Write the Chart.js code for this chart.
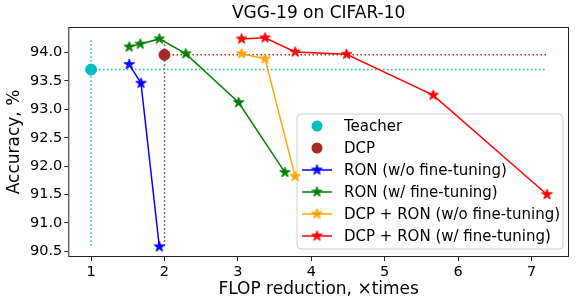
<!DOCTYPE html>
<html>
<head>
<meta charset="utf-8">
<script src="https://cdn.jsdelivr.net/npm/chart.js@4/dist/chart.umd.min.js"></script>
<style>
  html, body { margin: 0; padding: 0; background: #fff; }
</style>
</head>
<body>
<canvas id="chart" width="581" height="307"></canvas>
<script>
// ---- data ----
const xTicks = [1, 2, 3, 4, 5, 6, 7];
const yTicks = [90.5, 91.0, 91.5, 92.0, 92.5, 93.0, 93.5, 94.0];

const teacherX = [1];
const teacherY = [93.7];
const dcpX = [2];
const dcpY = [93.96];

const ronNoFtX = [1.52, 1.68, 1.93];
const ronNoFtY = [93.79, 93.46, 90.58];

const ronFtX = [1.52, 1.67, 1.93, 2.29, 3.01, 3.64];
const ronFtY = [94.10, 94.15, 94.24, 93.98, 93.12, 91.89];

const dcpRonNoFtX = [3.05, 3.37, 3.78];
const dcpRonNoFtY = [93.98, 93.89, 91.82];

const dcpRonFtX = [3.05, 3.37, 3.78, 4.48, 5.66, 7.21];
const dcpRonFtY = [94.24, 94.26, 94.01, 93.97, 93.25, 91.50];

// dotted guide lines (ends of the lines)
const guideBottom = 90.6, guideTop = 94.23, guideRight = 7.2;

const FONT = "'DejaVu Sans', sans-serif";

function pts(xs, ys) { return xs.map((x, i) => ({ x: x, y: ys[i] })); }

function makeStar(color, r) {
  const size = Math.ceil(2 * r + 2);
  const c = document.createElement('canvas');
  c.width = size; c.height = size;
  const ctx = c.getContext('2d');
  const cx = size / 2, cy = size / 2, inner = r * 0.382;
  ctx.beginPath();
  for (let i = 0; i < 10; i++) {
    const rad = i % 2 === 0 ? r : inner;
    const a = -Math.PI / 2 + i * Math.PI / 5;
    const px = cx + rad * Math.cos(a), py = cy + rad * Math.sin(a);
    if (i === 0) ctx.moveTo(px, py); else ctx.lineTo(px, py);
  }
  ctx.closePath();
  ctx.fillStyle = color;
  ctx.fill();
  ctx.lineWidth = 1;
  ctx.strokeStyle = color;
  ctx.stroke();
  return c;
}

const cTeacher = '#00bfbf', cDcp = '#a52a2a';
const cBlue = '#0000ff', cGreen = '#008000', cOrange = '#ffa500', cRed = '#ff0000';
const STAR_R = 5.5;
const stars = {
  blue: makeStar(cBlue, STAR_R), green: makeStar(cGreen, STAR_R),
  orange: makeStar(cOrange, STAR_R), red: makeStar(cRed, STAR_R)
};

function guide(color, data) {
  return {
    data: data, borderColor: color, borderWidth: 1.5, borderDash: [1.5, 2.5],
    pointRadius: 0, showLine: true, fill: false, order: 10
  };
}
function series(color, star, data) {
  return {
    data: data, borderColor: color, backgroundColor: color, borderWidth: 1.5,
    pointStyle: star, pointRadius: STAR_R, showLine: true, fill: false, order: 2
  };
}

const legendItems = [
  { label: 'Teacher', color: cTeacher, line: false },
  { label: 'DCP', color: cDcp, line: false },
  { label: 'RON (w/o fine-tuning)', color: cBlue, line: true, star: stars.blue },
  { label: 'RON (w/ fine-tuning)', color: cGreen, line: true, star: stars.green },
  { label: 'DCP + RON (w/o fine-tuning)', color: cOrange, line: true, star: stars.orange },
  { label: 'DCP + RON (w/ fine-tuning)', color: cRed, line: true, star: stars.red }
];

const decor = {
  id: 'decor',
  beforeDatasetsDraw(chart) {
    // legend sits under the data lines, as in the original
    const ctx = chart.ctx;
    ctx.save();
    const bx = 297, by = 114, bw = 266, bh = 135, rr = 4;
    ctx.beginPath();
    ctx.moveTo(bx + rr, by);
    ctx.arcTo(bx + bw, by, bx + bw, by + bh, rr);
    ctx.arcTo(bx + bw, by + bh, bx, by + bh, rr);
    ctx.arcTo(bx, by + bh, bx, by, rr);
    ctx.arcTo(bx, by, bx + bw, by, rr);
    ctx.closePath();
    ctx.fillStyle = 'rgba(255,255,255,0.8)';
    ctx.fill();
    ctx.strokeStyle = '#d0d0d0';
    ctx.lineWidth = 1;
    ctx.stroke();
    ctx.font = '15px ' + FONT;
    ctx.textAlign = 'left';
    ctx.textBaseline = 'middle';
    legendItems.forEach((it, i) => {
      const y = 126 + i * 22;
      if (it.line) {
        ctx.strokeStyle = it.color;
        ctx.lineWidth = 1.5;
        ctx.beginPath();
        ctx.moveTo(302, y); ctx.lineTo(332, y);
        ctx.stroke();
        ctx.drawImage(it.star, 317 - it.star.width / 2, y - it.star.height / 2);
      } else {
        ctx.fillStyle = it.color;
        ctx.beginPath();
        ctx.arc(317, y, 5.5, 0, Math.PI * 2);
        ctx.fill();
      }
      ctx.fillStyle = '#000';
      ctx.fillText(it.label, 344, y + 1);
    });
    ctx.restore();
  },
  afterDraw(chart) {
    const ctx = chart.ctx, a = chart.chartArea;
    ctx.save();
    ctx.strokeStyle = '#222';
    ctx.lineWidth = 1;
    ctx.strokeRect(a.left + 0.5, a.top + 0.5, a.right - a.left - 1, a.bottom - a.top - 1);
    ctx.fillStyle = '#000';
    ctx.font = '17px ' + FONT;
    ctx.textAlign = 'center';
    ctx.textBaseline = 'middle';
    ctx.fillText('VGG-19 on CIFAR-10', (a.left + a.right) / 2, 14);
    ctx.restore();
  }
};

new Chart(document.getElementById('chart'), {
  type: 'scatter',
  data: {
    datasets: [
      guide(cTeacher, [{ x: teacherX[0], y: guideBottom }, { x: teacherX[0], y: guideTop }]),
      guide(cTeacher, [{ x: teacherX[0], y: teacherY[0] }, { x: guideRight, y: teacherY[0] }]),
      guide(cDcp, [{ x: dcpX[0], y: guideBottom }, { x: dcpX[0], y: guideTop }]),
      guide(cDcp, [{ x: dcpX[0], y: dcpY[0] }, { x: guideRight, y: dcpY[0] }]),
      series(cBlue, stars.blue, pts(ronNoFtX, ronNoFtY)),
      series(cGreen, stars.green, pts(ronFtX, ronFtY)),
      series(cOrange, stars.orange, pts(dcpRonNoFtX, dcpRonNoFtY)),
      series(cRed, stars.red, pts(dcpRonFtX, dcpRonFtY)),
      { data: pts(teacherX, teacherY), backgroundColor: cTeacher, borderColor: cTeacher,
        pointRadius: 5.5, order: 1 },
      { data: pts(dcpX, dcpY), backgroundColor: cDcp, borderColor: cDcp,
        pointRadius: 5.5, order: 1 }
    ]
  },
  options: {
    responsive: false,
    animation: false,
    events: [],
    layout: { padding: { top: 27, right: 12, bottom: 0, left: 0 } },
    plugins: { legend: { display: false }, title: { display: false }, tooltip: { enabled: false } },
    scales: {
      x: {
        type: 'linear', min: 0.69, max: 7.51,
        afterBuildTicks: s => { s.ticks = xTicks.map(v => ({ value: v })); },
        afterFit: s => { s.height = 50; },
        grid: { drawOnChartArea: false, drawTicks: true, tickLength: 4, color: '#222' },
        border: { display: false },
        ticks: { color: '#000', font: { family: FONT, size: 14.5 }, padding: 3, maxRotation: 0,
                 callback: v => String(v) },
        title: { display: true, text: 'FLOP reduction, \u00d7times', color: '#000',
                 font: { family: FONT, size: 17 }, padding: { top: 0, bottom: 7 } }
      },
      y: {
        type: 'linear', min: 90.40, max: 94.45,
        afterBuildTicks: s => { s.ticks = yTicks.map(v => ({ value: v })); },
        afterFit: s => { s.width = 68.3; },
        grid: { drawOnChartArea: false, drawTicks: true, tickLength: 4, color: '#222' },
        border: { display: false },
        ticks: { color: '#000', font: { family: FONT, size: 14.5 }, padding: 2,
                 callback: v => v.toFixed(1) },
        title: { display: true, text: 'Accuracy, %', color: '#000',
                 font: { family: FONT, size: 17 }, padding: { top: 4, bottom: 0 } }
      }
    }
  },
  plugins: [decor]
});
</script>
</body>
</html>
